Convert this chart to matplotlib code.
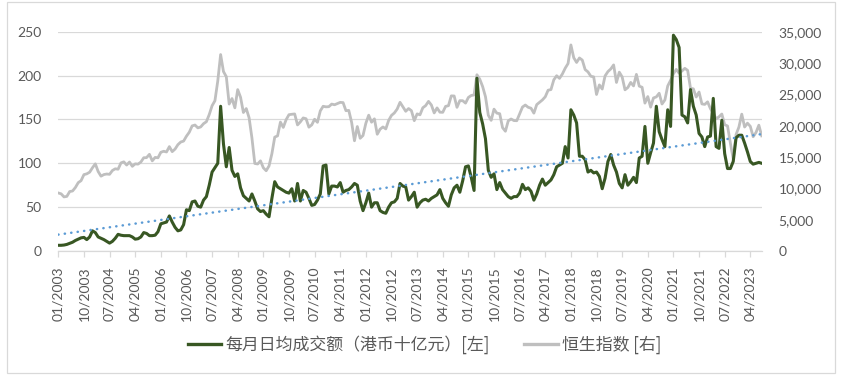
import numpy as np
import pandas as pd
import matplotlib
matplotlib.use('Agg')
import matplotlib.pyplot as plt
from matplotlib.patches import Rectangle

# ---------------- data ----------------
start_month = '2003-01'

# monthly average daily turnover (HK$ bn), Jan 2003 - Aug 2023
turnover_2003_2007 = [6.5, 6.5, 6.8, 7.5, 8.7, 10, 12, 13.5, 15, 15.5, 13, 16,
                      23, 21, 16, 14.5, 13, 11, 9, 11, 14.5, 19, 18, 17.5,
                      17.5, 17.5, 16, 13.5, 14, 16, 21, 20, 17.5, 17.5, 18, 22,
                      31, 32, 33, 40, 33, 27, 23, 24, 30, 47, 46, 56,
                      57, 51, 50, 58, 62, 75, 90, 95, 100, 165, 122, 96]
turnover_2008_2012 = [118, 92, 85, 88, 72, 63, 60, 57, 65, 57, 48, 45,
                      46, 42, 39, 60, 79, 73, 71, 69, 67, 66, 71, 57,
                      77, 57, 69, 67, 60, 52, 53, 58, 65, 97, 98, 65,
                      74, 74, 73, 78, 67, 69, 70, 73, 77, 75, 57, 46,
                      55, 66, 50, 55, 55, 46, 44, 43, 50, 55, 56, 60]
turnover_2013_2017 = [77, 74, 73, 58, 62, 67, 50, 55, 58, 59, 57, 60,
                      62, 64, 70, 60, 55, 51, 64, 72, 75, 67, 80, 96,
                      97, 84, 69, 197, 158, 145, 128, 92, 84, 88, 70, 78,
                      70, 66, 62, 60, 62, 62, 66, 76, 70, 72, 68, 58,
                      65, 75, 82, 75, 78, 81, 87, 96, 98, 100, 119, 106]
turnover_2018_2023 = [161, 155, 146, 108, 108, 104, 90, 92, 89, 90, 85, 71,
                      83, 102, 110, 98, 90, 77, 72, 87, 75, 79, 84, 78,
                      106, 108, 142, 100, 112, 123, 165, 136, 127, 119, 161, 142,
                      246, 241, 232, 155, 153, 146, 184, 165, 155, 134, 130, 119,
                      130, 131, 174, 119, 117, 149, 111, 94, 94, 102, 129, 132,
                      132, 123, 113, 102, 99, 100, 101, 100]
turnover = turnover_2003_2007 + turnover_2008_2012 + turnover_2013_2017 + turnover_2018_2023

# Hang Seng Index monthly close
hsi_2003_2007 = [9259, 9123, 8634, 8717, 9487, 9577, 10135, 10909, 11230, 12190, 12317, 12576,
                 13289, 13907, 12682, 11943, 12198, 12286, 12238, 12850, 13120, 13055, 14060, 14230,
                 13722, 14195, 13517, 13909, 13867, 14201, 14881, 14904, 15429, 14386, 14937, 14876,
                 15753, 15918, 15805, 16661, 15858, 16268, 16971, 17392, 17543, 18324, 18960, 19965,
                 20106, 19652, 19801, 20319, 20634, 21773, 23185, 23984, 27142, 31353, 28644, 27813]
hsi_2008_2012 = [23456, 24332, 22849, 25755, 24533, 22102, 22731, 21262, 18016, 13969, 13888, 14387,
                 13278, 12812, 13576, 15521, 18171, 18379, 20573, 19724, 20955, 21753, 21822, 21873,
                 20122, 20609, 21239, 21108, 19765, 20129, 21029, 20536, 22359, 23096, 23008, 23035,
                 23447, 23338, 23528, 23720, 23684, 22398, 22440, 20535, 17592, 19864, 17989, 18434,
                 20390, 21680, 20556, 21095, 18630, 19441, 19797, 19483, 20840, 21642, 22030, 22657]
hsi_2013_2017 = [23730, 23020, 22300, 22737, 22392, 20803, 21884, 21731, 22860, 23206, 23881, 23306,
                 22035, 22837, 22151, 22134, 23082, 23191, 24757, 24742, 22933, 23998, 23987, 23605,
                 24507, 24823, 24901, 28133, 27424, 26250, 24636, 21671, 20846, 22640, 21996, 21914,
                 19683, 19112, 20777, 21067, 20815, 20794, 21891, 22977, 23297, 22935, 22790, 22001,
                 23361, 23741, 24112, 24615, 25661, 25765, 27324, 27970, 27554, 28246, 29177, 29919]
hsi_2018_2023 = [32887, 30845, 30093, 30808, 30469, 28955, 28583, 27889, 27789, 24980, 26507, 25846,
                 27942, 28633, 29051, 29699, 26901, 28543, 27778, 25725, 26092, 26907, 26346, 28190,
                 26313, 26130, 23603, 24644, 22961, 24427, 24595, 25177, 23459, 24107, 26341, 27231,
                 28284, 28980, 28378, 28725, 29152, 28828, 25961, 25879, 24576, 25377, 23475, 23398,
                 23802, 22713, 21997, 21089, 21415, 21860, 20157, 19955, 17223, 14687, 18597, 19781,
                 21842, 19786, 20400, 19895, 18234, 18916, 20079, 18382]
hsi = hsi_2003_2007 + hsi_2008_2012 + hsi_2013_2017 + hsi_2018_2023

label_step = 9
left_ticks = [0, 50, 100, 150, 200, 250]
right_ticks = [0, 5000, 10000, 15000, 20000, 25000, 30000, 35000]
series_names = ['每月日均成交额（港币十亿元）[左]', '恒生指数 [右]']

# ---------------- plot ----------------
n = len(turnover)
x = np.arange(n)
months = pd.date_range(start_month, periods=n, freq='MS')
tick_pos = x[::label_step]
tick_labels = months[::label_step].strftime('%m/%Y')

text_color = '#595959'
grid_color = '#D9D9D9'
green = '#385723'
gray = '#BFBFBF'
blue = '#5B9BD5'
tick_font = ['Lato', 'DejaVu Sans']
cjk_font = ['Noto Sans CJK SC', 'DejaVu Sans']

fig = plt.figure(figsize=(8.53, 3.75), dpi=100)
fig.patches.append(Rectangle((7.3 / 853, 1 - 372.7 / 375), (835 - 7.3) / 853, (372.7 - 1.7) / 375,
                             transform=fig.transFigure, fill=False, edgecolor=grid_color, lw=0.9))

rect = [58.3 / 853, 1 - 251 / 375, (761.7 - 58.3) / 853, (251 - 31.7) / 375]
ax = fig.add_axes(rect)
ax.set_xlim(0, n - 1)
ax.set_ylim(0, 250)
ax.set_yticks(left_ticks)
ax.grid(axis='y', color=grid_color, lw=0.9)
ax.set_axisbelow(True)
for s in ['top', 'right', 'left']:
    ax.spines[s].set_visible(False)
ax.spines['bottom'].set_color(grid_color)
ax.spines['bottom'].set_linewidth(0.9)
ax.set_xticks(tick_pos)
ax.set_xticklabels(tick_labels, rotation=90, family=tick_font, fontsize=10, color=text_color)
ax.tick_params(axis='x', length=4, color=grid_color, width=0.9, pad=7)
ax.tick_params(axis='y', length=0, pad=12, labelsize=10, labelcolor=text_color)
for lab in ax.get_yticklabels():
    lab.set_family(tick_font)

# secondary axis (HSI)
ax2 = ax.twinx()
ax2.set_ylim(0, 35000)
ax2.set_yticks(right_ticks)
ax2.set_yticklabels([f'{v:,}' for v in right_ticks], family=tick_font, fontsize=10, color=text_color)
ax2.tick_params(axis='y', length=0, pad=12)
for s in ['top', 'right', 'left', 'bottom']:
    ax2.spines[s].set_visible(False)
ln_hsi, = ax2.plot(x, hsi, color=gray, lw=2.0, solid_joinstyle='round')

# third axis on the left scale, drawn on top
ax3 = ax.twinx()
ax3.sharey(ax)
ax3.yaxis.set_visible(False)
for s in ['top', 'right', 'left', 'bottom']:
    ax3.spines[s].set_visible(False)
ln_to, = ax3.plot(x, turnover, color=green, lw=2.2, solid_joinstyle='round')
coef = np.polyfit(x, turnover, 1)
ax3.plot(x, np.polyval(coef, x), color=blue, lw=1.8, linestyle=(0, (0.1, 2.5)),
         dash_capstyle='round')
ax3.set_xlim(0, n - 1)
ax3.set_ylim(0, 250)

leg = fig.legend([ln_to, ln_hsi], series_names, loc='center', bbox_to_anchor=(0.4977, 1 - 345 / 375),
                 ncol=2, frameon=False, handlelength=2.0, handletextpad=0.25, columnspacing=2.0,
                 prop={'family': cjk_font, 'size': 12.2})
for t in leg.get_texts():
    t.set_color(text_color)
for h in leg.legend_handles:
    h.set_linewidth(2.4)

fig.savefig('out.png', dpi=100)
